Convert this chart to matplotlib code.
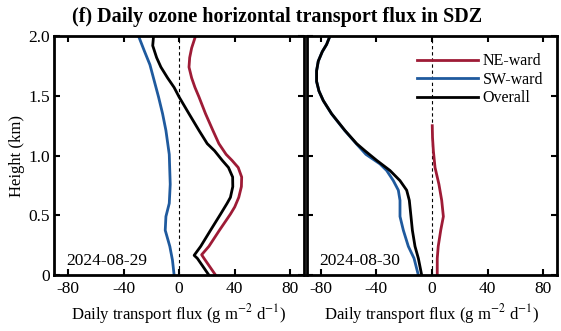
import matplotlib.pyplot as plt

plt.rcParams['font.family'] = ['Liberation Serif', 'DejaVu Serif']
plt.rcParams['mathtext.fontset'] = 'stix'

RED = '#9E1B36'
BLUE = '#1F5A9E'

# 2024-08-29 profiles (height in km, flux in g m-2 d-1)
h_ne_29 = [0.0, 0.14, 0.17, 0.24, 0.375, 0.51, 0.57, 0.65, 0.74, 0.82, 0.90, 0.96, 1.01,
           1.10, 1.21, 1.35, 1.49, 1.57, 1.65, 1.74, 1.82, 1.90, 2.0]
ne_29 = [26.2, 17.9, 16.2, 21.4, 29.0, 36.9, 40.0, 42.9, 44.8, 45.0, 42.5, 38.0, 33.8,
         28.6, 24.3, 19.0, 14.3, 11.4, 9.0, 7.1, 7.6, 9.0, 11.8]
h_sw_29 = [0.0, 0.125, 0.24, 0.375, 0.49, 0.60, 0.76, 0.90, 1.01, 1.21, 1.35, 1.49,
           1.625, 1.76, 1.875, 2.0]
sw_29 = [-3.6, -4.8, -6.7, -10.0, -9.5, -7.1, -6.4, -6.8, -7.1, -9.5, -11.9, -14.8,
         -17.9, -21.0, -25.0, -29.2]
h_all_29 = [0.0, 0.14, 0.165, 0.24, 0.375, 0.51, 0.60, 0.65, 0.74, 0.82, 0.90, 0.96,
            1.04, 1.10, 1.21, 1.35, 1.49, 1.57, 1.65, 1.74, 1.82, 1.92, 2.0]
all_29 = [21.4, 13.1, 10.8, 15.5, 22.6, 29.8, 34.5, 36.9, 38.6, 38.5, 35.5, 31.0,
          25.5, 20.2, 14.3, 7.1, 0.0, -3.6, -8.3, -13.1, -16.2, -19.0, -18.4]

# 2024-08-30 profiles
h_ne_30 = [0.0, 0.14, 0.24, 0.375, 0.49, 0.625, 0.76, 0.90, 1.04, 1.15, 1.25]
ne_30 = [3.8, 3.8, 4.5, 6.3, 8.2, 7.0, 5.0, 2.2, 1.0, 0.4, 0.2]
h_sw_30 = [0.0, 0.14, 0.24, 0.375, 0.49, 0.625, 0.71, 0.79, 0.875, 0.93, 1.01, 1.10,
           1.21, 1.35, 1.46, 1.54, 1.62, 1.71, 1.79, 1.87, 1.93, 2.0]
sw_30 = [-9.8, -12.9, -17.0, -20.6, -23.0, -23.0, -24.2, -27.8, -32.6, -37.4, -47.5,
         -54.5, -62.8, -72.3, -78.2, -81.3, -83.0, -83.0, -81.8, -78.9, -75.8, -73.4]
h_all_30 = [0.0, 0.14, 0.24, 0.375, 0.49, 0.625, 0.71, 0.79, 0.875, 0.96, 1.04, 1.10,
            1.21, 1.35, 1.46, 1.54, 1.62, 1.71, 1.79, 1.87, 1.93, 2.0]
all_30 = [-7.4, -9.8, -12.2, -14.1, -15.1, -16.3, -18.2, -23.0, -30.2, -39.8, -48.2,
          -54.2, -62.6, -72.2, -78.2, -81.3, -83.0, -83.0, -81.8, -78.9, -75.8, -73.4]

xticks = [-80, -40, 0, 40, 80]
yticks = [0, 0.5, 1.0, 1.5, 2.0]
ytick_labels = ['0', '0.5', '1.0', '1.5', '2.0']

fig = plt.figure(figsize=(5.61, 3.31), dpi=100)
ax1 = fig.add_axes([0.0963, 0.169, 0.446, 0.722])
ax2 = fig.add_axes([0.5470, 0.169, 0.446, 0.722])

panels = [
    (ax1, '2024-08-29', h_ne_29, ne_29, h_sw_29, sw_29, h_all_29, all_29),
    (ax2, '2024-08-30', h_ne_30, ne_30, h_sw_30, sw_30, h_all_30, all_30),
]

for ax, date, hn, ne, hs, sw, ha, al in panels:
    ax.axvline(0, color='k', ls='--', lw=0.8, dashes=(3, 2.5))
    ax.plot(ne, hn, color=RED, lw=2.0, label='NE-ward')
    ax.plot(sw, hs, color=BLUE, lw=2.0, label='SW-ward')
    ax.plot(al, ha, color='k', lw=2.0, label='Overall')
    ax.set_xlim(-90, 90)
    ax.set_ylim(0, 2.0)
    ax.set_xticks(xticks)
    ax.set_xticklabels([str(t) for t in xticks], fontsize=12.5)
    ax.set_yticks(yticks)
    ax.tick_params(direction='in', length=4, width=1.5, top=True, right=True, pad=4)
    ax.tick_params(axis='y', pad=3)
    for s in ax.spines.values():
        s.set_linewidth(2.0)
    ax.set_xlabel('Daily transport flux (g m$^{-2}$ d$^{-1}$)', fontsize=12, labelpad=4)
    ax.text(0.05, 0.025, date, transform=ax.transAxes, fontsize=12.5, ha='left', va='bottom')

ax1.set_yticklabels(ytick_labels, fontsize=12.5)
ax1.set_ylabel('Height (km)', fontsize=12, labelpad=2)
ax2.set_yticklabels([])

ax2.legend(loc='upper left', bbox_to_anchor=(0.44, 0.928), frameon=False, fontsize=11.5,
           handlelength=3.8, handletextpad=0.3, labelspacing=0.16,
           borderpad=0, borderaxespad=0)

fig.text(0.493, 0.949, '(f) Daily ozone horizontal transport flux in SDZ',
         fontsize=14.5, fontweight='bold', ha='center', va='center')

fig.savefig('out.png', dpi=100)
